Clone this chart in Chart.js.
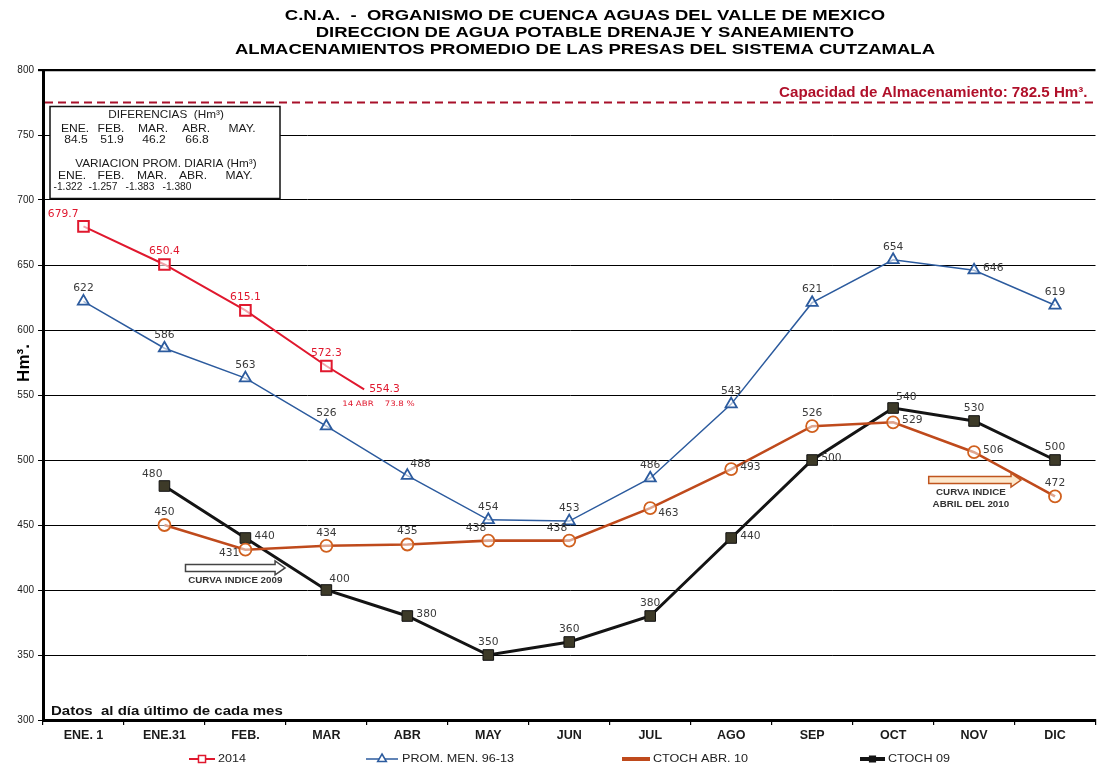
<!DOCTYPE html>
<html><head><meta charset="utf-8">
<script src="https://cdn.jsdelivr.net/npm/chart.js@4.4.1/dist/chart.umd.min.js"></script>
<style>html,body{margin:0;padding:0;background:#fff;}canvas{display:block;}</style>
</head><body>
<canvas id="c" width="1105" height="771"></canvas>
<script>
// ---------------- DATA ----------------
const TITLE_LINES = [
  'C.N.A.  -  ORGANISMO DE CUENCA AGUAS DEL VALLE DE MEXICO',
  'DIRECCION DE AGUA POTABLE DRENAJE Y SANEAMIENTO',
  'ALMACENAMIENTOS PROMEDIO DE LAS PRESAS DEL SISTEMA CUTZAMALA'
];
const MONTHS = ['ENE. 1','ENE.31','FEB.','MAR','ABR','MAY','JUN','JUL','AGO','SEP','OCT','NOV','DIC'];
const Y_MIN = 300, Y_MAX = 800, Y_STEP = 50;
const SERIES_NAMES = ['2014','PROM. MEN. 96-13','CTOCH ABR. 10','CTOCH 09'];
const S2014 = [679.7, 650.4, 615.1, 572.3, 554.3];
const S2014_POS = [0, 1, 2, 3, 3 + 14/30];           // last reading: 14 de abril
const PROM_96_13 = [622, 586, 563, 526, 488, 454, 453, 486, 543, 621, 654, 646, 619];
const CTOCH_ABR10 = [null, 450, 431, 434, 435, 438, 438, 463, 493, 526, 529, 506, 472];
const CTOCH_09 = [null, 480, 440, 400, 380, 350, 360, 380, 440, 500, 540, 530, 500];
const CAPACITY_LINE = 775;
const CAPACITY_TEXT = 'Capacidad de Almacenamiento: 782.5 Hm³.';
const LAST_NOTE = '14 ABR    73.8 %';
const DIF_TITLE = 'DIFERENCIAS  (Hm³)';
const DIF_MONTHS = ['ENE.','FEB.','MAR.','ABR.','MAY.'];
const DIF_VALUES = ['84.5','51.9','46.2','66.8'];
const VAR_TITLE = 'VARIACION PROM. DIARIA (Hm³)';
const VAR_VALUES = ['-1.322','-1.257','-1.383','-1.380'];
const NOTE_BOTTOM = 'Datos  al día último de cada mes';
const Y_TITLE = 'Hm³.';

// ---------------- STYLE / LAYOUT ----------------
const F = "'Liberation Sans', Arial, sans-serif";
const FD = "'DejaVu Sans', Verdana, sans-serif";
const C_RED = '#e0182e', C_BLUE = '#2c5b9e', C_ORANGE = '#bf4a1c', C_BLACK = '#141414';
const LABEL_PLACE = [
  ['l','a','a','a','end'],
  ['a','a','a','a','ar','a','a','a','a','a','a','r','a'],
  [null,'a','bl','a','a','al','al','rb','r','a','r','r','a'],
  [null,'al','r','ar','r','a','a','a','r','r','ar','a','a']
];
const LABEL_COLORS = [C_RED, '#3a3a3a', '#3a3a3a', '#3a3a3a'];

function txt(ctx, s, x, y, font, color, align, sx, base) {
  ctx.save();
  ctx.font = font; ctx.fillStyle = color; ctx.textAlign = align || 'left';
  ctx.textBaseline = base || 'middle';
  ctx.translate(x, y); ctx.scale(sx || 1, 1);
  ctx.fillText(s, 0, 0);
  ctx.restore();
}
function arrow(ctx, x1, x2, y, stroke, fill) {
  const h = 3.5, hh = 7, hw = 10;
  ctx.save();
  ctx.beginPath();
  ctx.moveTo(x1, y - h); ctx.lineTo(x2 - hw, y - h); ctx.lineTo(x2 - hw, y - hh);
  ctx.lineTo(x2, y); ctx.lineTo(x2 - hw, y + hh); ctx.lineTo(x2 - hw, y + h);
  ctx.lineTo(x1, y + h); ctx.closePath();
  ctx.fillStyle = fill; ctx.fill();
  ctx.strokeStyle = stroke; ctx.lineWidth = 1.5; ctx.stroke();
  ctx.restore();
}
function marker(ctx, style, x, y, r, stroke, fill, lw) {
  ctx.save();
  ctx.strokeStyle = stroke; ctx.fillStyle = fill; ctx.lineWidth = lw;
  ctx.beginPath();
  if (style === 'rect') { const s = r * Math.SQRT1_2; ctx.rect(x - s, y - s, 2*s, 2*s); }
  else if (style === 'triangle') { ctx.moveTo(x, y - r); ctx.lineTo(x + r*0.87, y + r*0.5); ctx.lineTo(x - r*0.87, y + r*0.5); ctx.closePath(); }
  else { ctx.arc(x, y, r, 0, Math.PI*2); }
  ctx.fill(); ctx.stroke();
  ctx.restore();
}

const toPts = (arr, pos) => arr.map((v, i) => v == null ? null : ({x: pos ? pos[i] : i, y: v})).filter(p => p);

const decor = {
  id: 'decor',
  beforeDatasetsDraw(chart) {
    const {ctx, chartArea: a, scales: {x, y}} = chart;
    // capacity line
    const cy = y.getPixelForValue(CAPACITY_LINE);
    ctx.save();
    ctx.strokeStyle = '#a8102a'; ctx.lineWidth = 2; ctx.setLineDash([8, 5]);
    ctx.beginPath(); ctx.moveTo(a.left + 2, cy); ctx.lineTo(a.right, cy); ctx.stroke();
    ctx.restore();
    txt(ctx, CAPACITY_TEXT, a.right - 8, cy - 9, 'bold 14px ' + F, '#b0102a', 'right', 1.08);
    // info box
    const bx = a.left + 7, by = cy + 4, bw = 230, bh = 92;
    ctx.save();
    ctx.fillStyle = '#fff'; ctx.fillRect(bx, by, bw, bh);
    ctx.strokeStyle = '#111'; ctx.lineWidth = 1.5; ctx.strokeRect(bx, by, bw, bh);
    ctx.restore();
    const f = '500 10.5px ' + F, col = '#1a1a1a';
    txt(ctx, DIF_TITLE, bx + 116, by + 9, f, col, 'center', 1.12);
    const c1 = [25, 61, 103, 146, 192];
    DIF_MONTHS.forEach((m, i) => txt(ctx, m, bx + c1[i], by + 23, f, col, 'center', 1.15));
    DIF_VALUES.forEach((v, i) => txt(ctx, v, bx + c1[i] + 1, by + 34, f, col, 'center', 1.15));
    txt(ctx, VAR_TITLE, bx + 116, by + 58, f, col, 'center', 1.12);
    const c2 = [22, 61, 102, 143, 189];
    DIF_MONTHS.forEach((m, i) => txt(ctx, m, bx + c2[i], by + 70, f, col, 'center', 1.15));
    const c3 = [18, 53, 90, 127];
    VAR_VALUES.forEach((v, i) => txt(ctx, v, bx + c3[i], by + 81, '500 10px ' + F, col, 'center', 1.02));
    // bottom note
    txt(ctx, NOTE_BOTTOM, a.left + 8, a.bottom - 8, '600 12.5px ' + F, '#111', 'left', 1.2);
  },
  afterDatasetsDraw(chart) {
    const {ctx, scales: {x, y}} = chart;
    chart.data.datasets.forEach((ds, di) => {
      const meta = chart.getDatasetMeta(di);
      const places = LABEL_PLACE[di].filter(p => p !== null);
      meta.data.forEach((el, i) => {
        const v = ds.data[i].y;
        const s = di === 0 ? v.toFixed(1) : String(Math.round(v));
        const p = places[i];
        let tx = el.x, ty = el.y, al = 'center';
        if (p === 'a') { ty -= 13; }
        else if (p === 'l') { tx -= 5; ty -= 12; al = 'right'; }
        else if (p === 'r') { tx += 9; ty -= 2; al = 'left'; }
        else if (p === 'rb') { tx += 8; ty += 5; al = 'left'; }
        else if (p === 'ar') { tx += 3; ty -= 11; al = 'left'; }
        else if (p === 'al') { tx -= 2; ty -= 12; al = 'right'; }
        else if (p === 'bl') { tx -= 6; ty += 4; al = 'right'; }
        else if (p === 'end') { tx += 5; al = 'left'; }
        const font = di === 0 ? '500 10.5px ' + FD : '10.5px ' + FD;
        txt(ctx, s, tx, ty, font, LABEL_COLORS[di], al, 1.02);
        if (p === 'end') txt(ctx, LAST_NOTE, el.x - 22, el.y + 15, '7.5px ' + FD, C_RED, 'left', 1.15);
      });
    });
    // index curve annotations
    const ay = y.getPixelForValue(417);
    arrow(ctx, x.getPixelForValue(1.26), x.getPixelForValue(2.49), ay, '#444', '#fff');
    txt(ctx, 'CURVA INDICE 2009', (x.getPixelForValue(1.26) + x.getPixelForValue(2.49)) / 2, ay + 13, 'bold 8.5px ' + F, '#333', 'center', 1.15);
    const by = y.getPixelForValue(484.6);
    const bx1 = x.getPixelForValue(10.44), bx2 = x.getPixelForValue(11.58);
    arrow(ctx, bx1, bx2, by, '#c0551e', '#fde8cc');
    txt(ctx, 'CURVA INDICE', (bx1 + bx2) / 2 - 4, by + 13, 'bold 8.5px ' + F, '#333', 'center', 1.15);
    txt(ctx, 'ABRIL DEL 2010', (bx1 + bx2) / 2 - 4, by + 25, 'bold 8.5px ' + F, '#333', 'center', 1.15);
  },
  afterDraw(chart) {
    const {ctx, chartArea: a} = chart;
    // title
    ctx.save(); ctx.font = 'bold 15px ' + F;
    const w = ctx.measureText(TITLE_LINES[2]).width; ctx.restore();
    const sx = 700 / w;
    TITLE_LINES.forEach((t, i) => txt(ctx, t, 585, 16 + i * 17, 'bold 15px ' + F, '#000', 'center', sx));
    // y title
    ctx.save();
    ctx.translate(24, 363); ctx.rotate(-Math.PI / 2);
    ctx.font = 'bold 17px ' + F; ctx.fillStyle = '#000'; ctx.textAlign = 'center'; ctx.textBaseline = 'middle';
    ctx.fillText(Y_TITLE, 0, 0);
    ctx.restore();
    // legend
    const ly = 759;
    const items = [
      {x0: 189, x1: 215, tx: 218, style: 'rect', c: C_RED, lw: 2, fill: '#fff', r: 5},
      {x0: 366, x1: 398, tx: 402, style: 'triangle', c: C_BLUE, lw: 1.5, fill: '#fff', r: 5},
      {x0: 622, x1: 650, tx: 653, style: 'circle', c: C_ORANGE, lw: 4, fill: C_ORANGE, r: 0},
      {x0: 860, x1: 885, tx: 888, style: 'rect', c: C_BLACK, lw: 4, fill: C_BLACK, r: 4}
    ];
    items.forEach((it, i) => {
      ctx.save(); ctx.strokeStyle = it.c; ctx.lineWidth = it.lw;
      ctx.beginPath(); ctx.moveTo(it.x0, ly); ctx.lineTo(it.x1, ly); ctx.stroke(); ctx.restore();
      if (it.r) marker(ctx, it.style, (it.x0 + it.x1) / 2, ly, it.r, it.c, it.fill, 1.5);
      txt(ctx, SERIES_NAMES[i], it.tx, ly, '10.5px ' + F, '#222', 'left', 1.2);
    });
  }
};

new Chart(document.getElementById('c'), {
  type: 'line',
  data: {
    datasets: [
      {label: SERIES_NAMES[0], data: toPts(S2014, S2014_POS), borderColor: C_RED, borderWidth: 2,
       pointStyle: 'rect', pointRadius: c => c.dataIndex === S2014.length - 1 ? 0 : 7.5,
       pointBorderColor: C_RED, pointBackgroundColor: 'rgba(255,255,255,0.6)', pointBorderWidth: 2},
      {label: SERIES_NAMES[1], data: toPts(PROM_96_13), borderColor: C_BLUE, borderWidth: 1.5,
       pointStyle: 'triangle', pointRadius: 6.5, pointBorderColor: C_BLUE,
       pointBackgroundColor: 'rgba(255,255,255,0.6)', pointBorderWidth: 1.8},
      {label: SERIES_NAMES[2], data: toPts(CTOCH_ABR10), borderColor: C_ORANGE, borderWidth: 2.6,
       pointStyle: 'circle', pointRadius: 6, pointBorderColor: '#d0601e',
       pointBackgroundColor: 'rgba(255,255,255,0.5)', pointBorderWidth: 1.8},
      {label: SERIES_NAMES[3], data: toPts(CTOCH_09), borderColor: C_BLACK, borderWidth: 3,
       pointStyle: 'rect', pointRadius: 7.5, pointBorderColor: '#111',
       pointBackgroundColor: '#3d3a28', pointBorderWidth: 1}
    ]
  },
  options: {
    responsive: false, animation: false,
    layout: {padding: {top: 70, left: 0, right: 0, bottom: 0}},
    plugins: {legend: {display: false}, tooltip: {enabled: false}},
    scales: {
      x: {
        type: 'linear', min: -0.5, max: 12.5,
        afterBuildTicks: s => { s.ticks = MONTHS.map((m, i) => ({value: i})); },
        afterFit: s => { s.height = 51; },
        ticks: {callback: v => MONTHS[v], autoSkip: false, maxRotation: 0, padding: 3,
                color: '#1a1a1a', font: {family: F, size: 12.5, weight: 'bold'}},
        grid: {offset: true, drawOnChartArea: false, tickLength: 5, color: '#000', lineWidth: 1.2},
        border: {color: '#000', width: 3}
      },
      y: {
        min: Y_MIN, max: Y_MAX,
        afterFit: s => { s.width = 43; },
        ticks: {stepSize: Y_STEP, padding: 4, color: '#1a1a1a', font: {family: F, size: 10}},
        grid: {color: '#000', lineWidth: c => c.tick && c.tick.value === Y_MAX ? 2.2 : 1, tickLength: 5},
        border: {color: '#000', width: 3}
      }
    }
  },
  plugins: [decor]
});
</script>
</body></html>
